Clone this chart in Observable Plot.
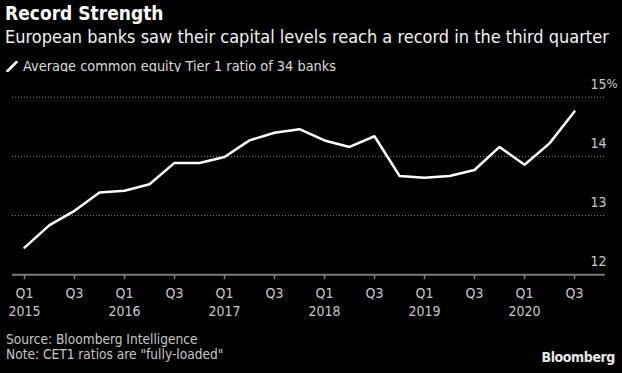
<!DOCTYPE html>
<html>
<head>
<meta charset="utf-8">
<script src="https://cdn.jsdelivr.net/npm/d3@7"></script>
<script src="https://cdn.jsdelivr.net/npm/@observablehq/plot@0.6"></script>
<style>
  html, body { margin: 0; padding: 0; background: #000; }
  #wrap { position: relative; width: 622px; height: 373px; background: #000; overflow: hidden;
          font-family: "DejaVu Sans Condensed", "Liberation Sans Narrow", "DejaVu Sans", sans-serif; font-stretch: condensed; }
  .abs { position: absolute; white-space: nowrap; }
  #title { left: 5px; top: 2px; font-size: 19px; font-weight: bold; color: #fff; }
  #subtitle { left: 5px; top: 26px; font-size: 18px; color: #f2f2f2; }
  #legend { left: 6px; top: 58px; font-size: 14.4px; color: #dcdcdc; }
  #legend svg { vertical-align: -1px; margin-right: 5px; }
  #chart { left: 0; top: 72px; }
  #source { left: 6px; top: 332px; font-size: 13.6px; color: #c8c8c8; line-height: 15px; }
  #brand { right: 7px; top: 349px; font-size: 14px; font-weight: bold; color: #e8e8e8; letter-spacing: -0.4px; }
</style>
</head>
<body>
<div id="wrap">
  <div id="title" class="abs">Record Strength</div>
  <div id="subtitle" class="abs">European banks saw their capital levels reach a record in the third quarter</div>
  <div id="legend" class="abs"><svg width="12" height="11"><line x1="1.5" y1="10" x2="10.5" y2="1" stroke="#fff" stroke-width="2.5" stroke-linecap="round"/></svg>Average common equity Tier 1 ratio of 34 banks</div>
  <div id="chart" class="abs"></div>
  <div id="source" class="abs">Source: Bloomberg Intelligence<br>Note: CET1 ratios are "fully-loaded"</div>
  <div id="brand" class="abs">Bloomberg</div>
</div>
<script>
const quarters = ["Q1 2015","Q2 2015","Q3 2015","Q4 2015","Q1 2016","Q2 2016","Q3 2016","Q4 2016",
  "Q1 2017","Q2 2017","Q3 2017","Q4 2017","Q1 2018","Q2 2018","Q3 2018","Q4 2018",
  "Q1 2019","Q2 2019","Q3 2019","Q4 2019","Q1 2020","Q2 2020","Q3 2020"];
const ratios = [12.46, 12.84, 13.08, 13.39, 13.42, 13.53, 13.89, 13.89,
  13.99, 14.27, 14.40, 14.46, 14.27, 14.16, 14.34, 13.67,
  13.64, 13.67, 13.77, 14.16, 13.86, 14.22, 14.76];
const xTicks = quarters.filter((q, i) => i % 2 === 0);
const yTicks = [12, 13, 14, 15];
const gridTicks = [13, 14, 15];

const data = quarters.map((q, i) => ({q, v: ratios[i]}));
const fmtX = q => { const [a, b] = q.split(" "); return a === "Q1" ? a + "\n" + b : a; };
const font = "'DejaVu Sans Condensed', 'Liberation Sans Narrow', 'DejaVu Sans', sans-serif";

const chart = Plot.plot({
  width: 622,
  height: 253,
  marginLeft: 12,
  marginRight: 17,
  marginTop: 24.7,
  marginBottom: 50.7,
  style: {background: "#000", color: "#c8c8c8", fontSize: "14px", fontFamily: font, overflow: "visible"},
  x: {type: "point", domain: quarters, padding: 0.655, align: 0.28, label: null},
  y: {domain: [12, 15], label: null},
  marks: [
    Plot.gridY(gridTicks, {stroke: "#8a8a8a", strokeOpacity: 1, strokeDasharray: "1,2"}),
    Plot.ruleY([12], {stroke: "#7a7a7a", strokeWidth: 2}),
    Plot.axisX(xTicks, {tickSize: 5, stroke: "#7a7a7a", strokeWidth: 1.5, tickPadding: 6, fill: "#c8c8c8",
      tickFormat: fmtX, fontSize: 14, lineHeight: 1.27, label: null}),
    Plot.axisY(yTicks, {anchor: "right", tickSize: 0, tickPadding: 0, textAnchor: "end", dx: 1, dy: -13,
      fill: "#c8c8c8", fontSize: 14, tickFormat: d => String(d), label: null}),
    Plot.text([15], {y: d => d, text: () => "%", frameAnchor: "right", textAnchor: "start", dx: 1, dy: -13,
      fill: "#c8c8c8", fontSize: 13}),
    Plot.line(data, {x: "q", y: "v", stroke: "#fff", strokeWidth: 2.5, strokeLinejoin: "miter"})
  ]
});
document.getElementById("chart").appendChild(chart);
</script>
</body>
</html>
